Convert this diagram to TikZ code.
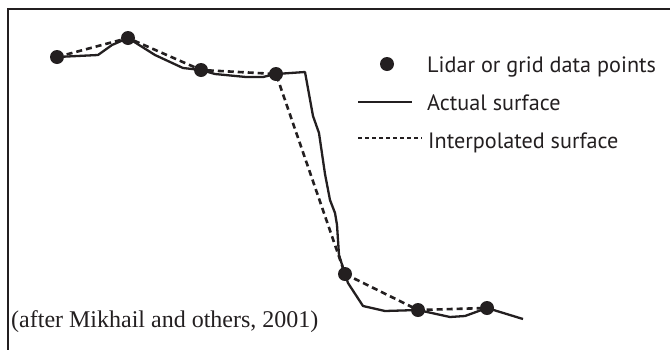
\documentclass[tikz,border=0pt]{standalone}
\usepackage{fontspec}
\setmainfont{Liberation Serif}
\newfontfamily\legendfont{PT Sans}
\definecolor{ink}{RGB}{35,31,32}
\begin{document}
\begin{tikzpicture}[x=1pt,y=-1pt,
  datapt/.style={circle,fill=ink,inner sep=0pt,minimum size=14pt},
  actual/.style={draw=ink,line width=2.3pt,line join=round},
  interp/.style={draw=ink,line width=2.6pt,dash pattern=on 6pt off 4pt},
  legtext/.style={anchor=base west,inner sep=0pt,font=\legendfont\fontsize{22.2}{26}\selectfont,text=ink},
  citetext/.style={anchor=base west,inner sep=0pt,font=\fontsize{24}{28}\selectfont,text=ink}]
\useasboundingbox (0,0) rectangle (670,349);
\begin{scope}
\clip (0,0) rectangle (670,349);
\draw[ink,line width=2.4pt] (8,9) rectangle (700,380);
\end{scope}
% data points
\coordinate (p1) at (57,57);
\coordinate (p2) at (128,38);
\coordinate (p3) at (201,70);
\coordinate (p4) at (276,74);
\coordinate (p5) at (345,274);
\coordinate (p6) at (418,310);
\coordinate (p7) at (487,308);
\coordinate (aend) at (523,319);
% actual surface
\draw[actual] (p1) -- (98,55) -- (112,45) -- (p2) -- (155,55) -- (183,68) -- (p3)
  -- (215,74) -- (246,77) -- (263,77) -- (p4) -- (305,72) -- (313,116) -- (319,133)
  -- (325,174) -- (330,200) -- (335,213) -- (337,225) -- (339,255) -- (p5)
  -- (348,283) -- (363,306) -- (385,311) -- (p6) -- (450,317) -- (465,316) -- (p7) -- (aend);
% interpolated surface
\draw[interp] (p1) -- (p2) -- (p3) -- (p4) -- (p5) -- (p6) -- (p7);
\foreach \p in {p1,p2,p3,p4,p5,p6,p7} \node[datapt] (n\p) at (\p) {};
% legend
\node[datapt] (legdot) at (387,64) {};
\node[legtext] (t1) at (427,72) {Lidar or grid data points};
\coordinate (la1) at (358,102);
\coordinate (la2) at (412,102);
\draw[ink,line width=1.8pt] (la1) -- (la2);
\node[legtext] (t2) at (427,110) {Actual surface};
\coordinate (lb1) at (358,138);
\coordinate (lb2) at (422,138);
\draw[ink,line width=1.5pt,dash pattern=on 4pt off 3pt] (lb1) -- (lb2);
\node[legtext] (t3) at (428,148) {Interpolated surface};
\node[citetext] (cite) at (11,327) {(after Mikhail and others, 2001)};
\end{tikzpicture}
\end{document}
